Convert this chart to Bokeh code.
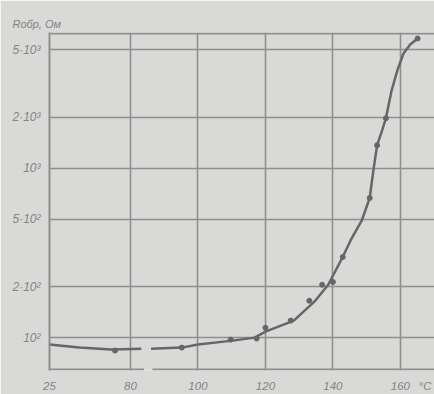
from bokeh.plotting import figure
from bokeh.models import Span, FixedTicker, Range1d
from bokeh.embed import file_html
from bokeh.resources import INLINE

# ---- data ----
# smooth curve: temperature (°C) and reverse resistance (Ohm)
curve_t_left = [25, 45.3, 66.9, 83.2]
curve_r_left = [91.0, 87.3, 85.0, 86.1]
curve_t_right = [86.1, 95.2, 100, 110.3, 116.8, 120, 128.4, 134.5, 138.6, 142.9,
                 145.3, 148.6, 150.9, 152.0, 153.1, 154.6, 155.7, 157.4, 159.1, 160.9, 162.9, 165.1]
curve_r_right = [86.1, 87.3, 91.0, 96.0, 100, 108.5, 125.9, 162.9, 205, 299,
                 377, 494, 666, 973, 1365, 1675, 1968, 2877, 3768, 4745, 5360, 5818]
# measured points
pts_t = [69.5, 95.2, 109.7, 117.4, 120, 127.5, 133.0, 136.8, 140, 142.9, 150.9, 153.1, 155.7, 165.1]
pts_r = [83.9, 87.3, 97.3, 98.7, 114.5, 126, 165, 205, 213, 299, 666, 1365, 1968, 5818]

x_ticks = [25, 80, 100, 120, 140, 160]
x_tick_labels = ["25", "80", "100", "120", "140", "160"]
x_unit = "°C"
y_ticks = [100, 200, 500, 1000, 2000, 5000]
y_tick_labels = ["10²", "2·10²", "5·10²", "10³", "2·10³", "5·10³"]
y_title = "Rобр, Ом"

# broken axis: 25..80 °C is compressed into a short stretch
X0, XB, XMAX = 56.0, 80.0, 170.1
X_UNIT_POS = 167.3
def xpos(t):
    if t <= 80:
        return X0 + (t - 25) * (XB - X0) / 55.0
    return t

BG = "#d9d9d7"
GRID = "#8f8f8f"
TXT = "#848484"
INK = "#666666"
FONT = "Liberation Sans Narrow, Liberation Sans, DejaVu Sans"

ylo, yhi = 10 ** 1.806, 10 ** 3.800
p = figure(width=434, height=394, x_range=Range1d(X0, XMAX), y_range=Range1d(ylo, yhi),
           y_axis_type="log", output_backend="svg", toolbar_location=None,
           min_border_left=49, min_border_right=0, min_border_top=32, min_border_bottom=23)
p.background_fill_color = BG
p.border_fill_color = BG
p.outline_line_color = None

p.title.text = y_title
p.title.align = "left"
p.title.offset = -37
p.title.standoff = 6
p.title.text_color = TXT
p.title.text_font = FONT
p.title.text_font_style = "italic"
p.title.text_font_size = "11px"

xt = [xpos(t) for t in x_ticks]
p.xaxis.ticker = FixedTicker(ticks=xt + [X_UNIT_POS])
overrides = {v: s for v, s in zip(xt, x_tick_labels)}
overrides[X_UNIT_POS] = x_unit
p.xaxis.major_label_overrides = overrides
p.yaxis.ticker = FixedTicker(ticks=y_ticks)
p.yaxis.major_label_overrides = {v: s for v, s in zip(y_ticks, y_tick_labels)}
p.xgrid.ticker = FixedTicker(ticks=xt)
p.ygrid.ticker = FixedTicker(ticks=y_ticks)
for g in (p.xgrid, p.ygrid):
    g.grid_line_color = GRID
    g.grid_line_width = 1.6
for ax in (p.xaxis, p.yaxis):
    ax.major_tick_line_color = None
    ax.minor_tick_line_color = None
    ax.major_label_text_color = TXT
    ax.major_label_text_font = FONT
    ax.major_label_text_font_style = "italic"
p.xaxis.major_label_text_font_size = "11.5px"
p.yaxis.major_label_text_font_size = "12px"
p.xaxis.axis_line_color = None
p.xaxis.major_label_standoff = 3
p.yaxis.axis_line_color = GRID
p.yaxis.axis_line_width = 2
p.yaxis.major_label_standoff = 3

# top border
p.add_layout(Span(location=10 ** 3.794, dimension="width", line_color=GRID, line_width=2))
# bottom axis line with break
yb = 10 ** 1.812
p.segment(x0=[X0, 86.5], y0=[yb, yb], x1=[84.0, XMAX], y1=[yb, yb], line_color=GRID, line_width=2)

# curve
p.line([xpos(t) for t in curve_t_left], curve_r_left, line_color=INK, line_width=2.5)
p.line([xpos(t) for t in curve_t_right], curve_r_right, line_color=INK, line_width=2.5)
p.scatter([xpos(t) for t in pts_t], pts_r, size=5, color=INK)

open("out.html", "w").write(file_html(p, INLINE))
